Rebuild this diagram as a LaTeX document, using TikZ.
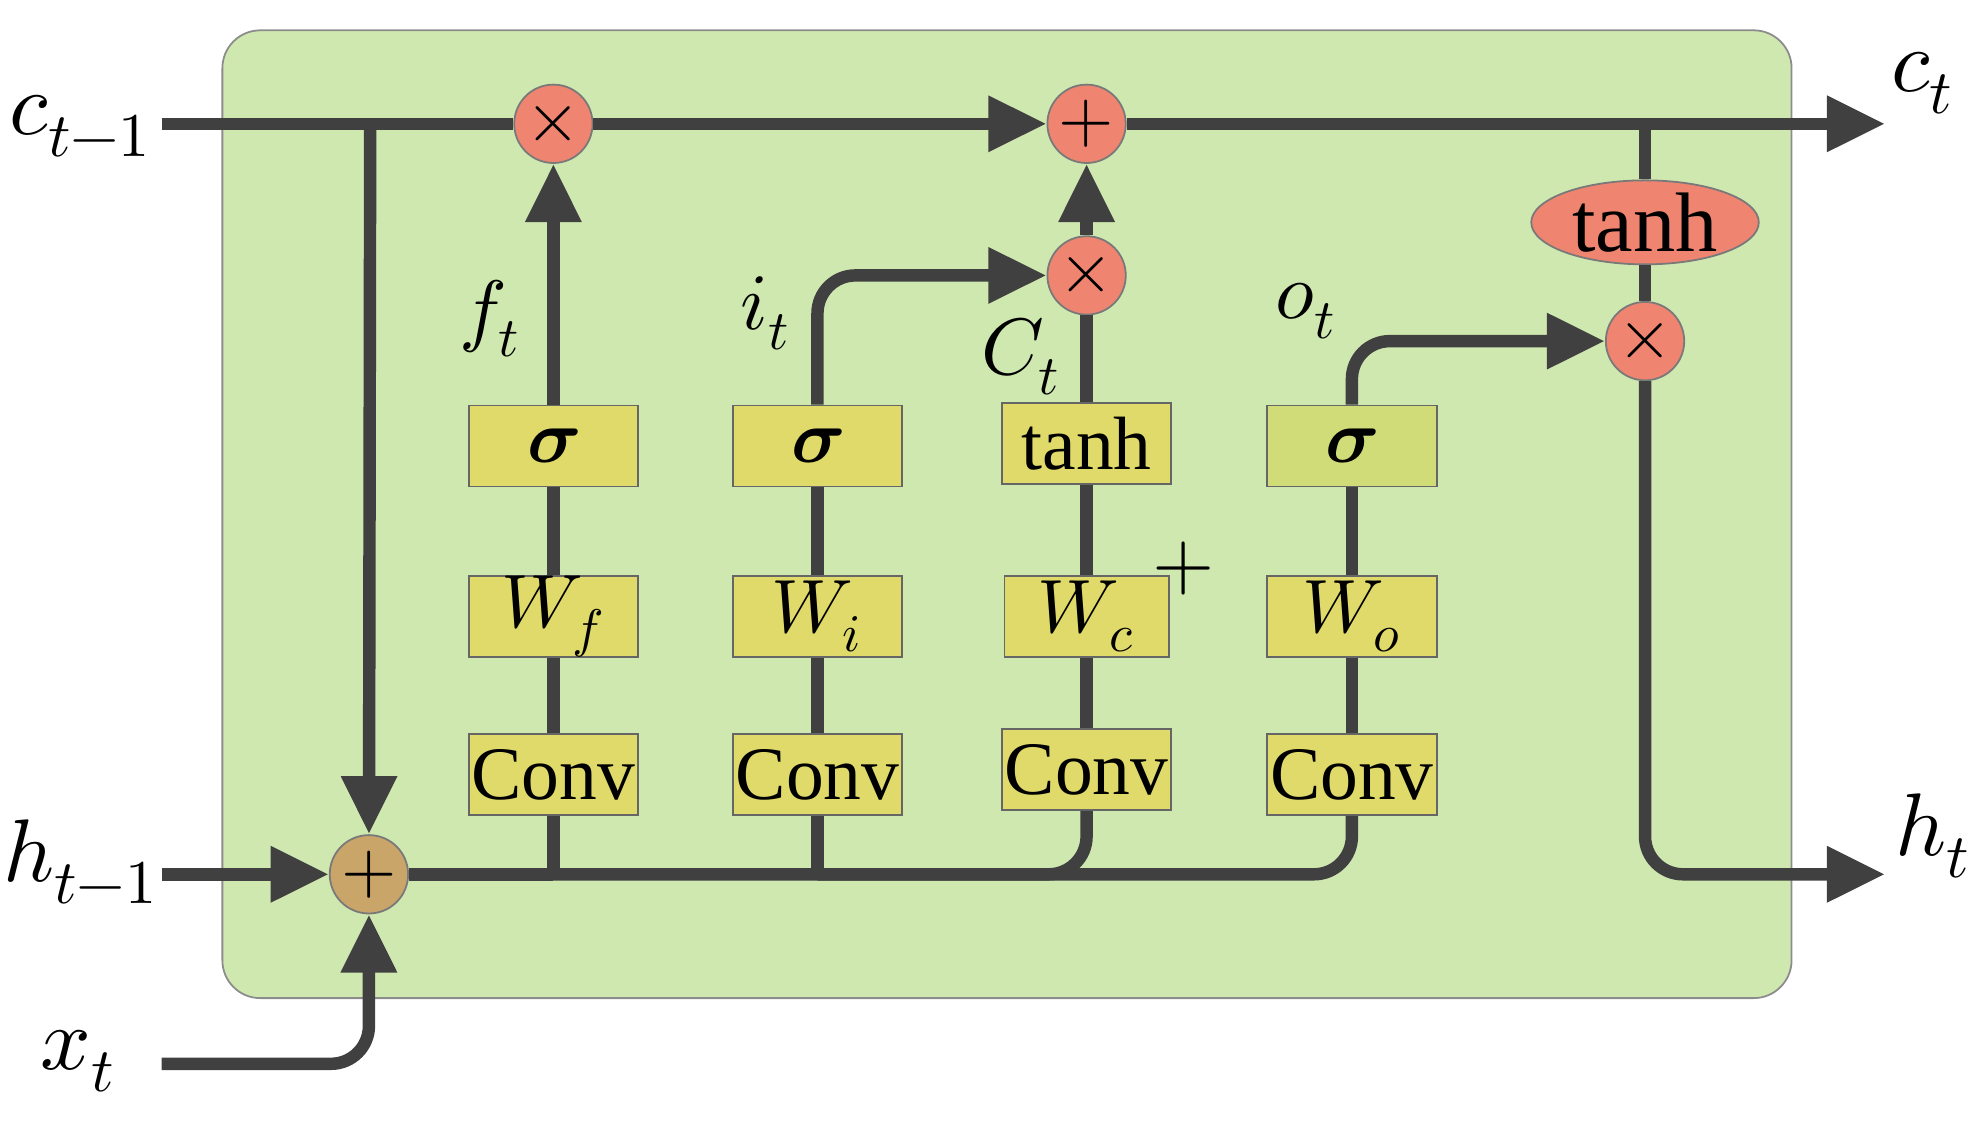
\documentclass[tikz,border=0pt]{standalone}
\usepackage{fontspec}
\setmainfont{Liberation Serif}
\usepackage{unicode-math}
\setmathfont{Latin Modern Math}
\usetikzlibrary{arrows.meta,positioning,shapes.geometric}
\definecolor{cellbg}{HTML}{CFE8B0}
\definecolor{gatey}{HTML}{E0DA6A}
\definecolor{gateg}{HTML}{D0DC78}
\definecolor{opred}{HTML}{EF8570}
\definecolor{opbrown}{HTML}{C9A56A}
\definecolor{wire}{HTML}{404040}
\tikzset{
  gate/.style={draw=wire!80,fill=gatey,minimum width=1.34cm,minimum height=0.64cm,inner sep=0pt,font=\fontsize{17}{17}\selectfont},
  op/.style={circle,draw=wire!70,fill=opred,minimum size=0.62cm,inner sep=0pt,font=\fontsize{16}{16}\selectfont},
  line/.style={draw=wire,line width=2.8pt},
  arr/.style={line,-{Triangle[length=0.46cm,width=0.42cm]}},
  lbl/.style={font=\fontsize{20}{20}\selectfont,inner sep=0pt}
}
\begin{document}
\begin{tikzpicture}[x=0.01cm,y=-0.01cm]
  \useasboundingbox (0,0) rectangle (1560,898);
  \fill[cellbg,draw=wire!60,rounded corners=0.3cm] (176,24) rectangle (1418,790);
  % operators
  \node[op] (mulf) at (438,98) {$\times$};
  \node[op] (addc) at (860,98) {$+$};
  \node[op] (muli) at (860,218) {$\times$};
  \node[op] (mulo) at (1302,270) {$\times$};
  \node[op,fill=opbrown] (addx) at (292,692) {$+$};
  \node[ellipse,draw=wire!70,fill=opred,minimum width=1.8cm,minimum height=0.64cm,inner sep=0pt,font=\fontsize{19}{19}\selectfont] (tanhc) at (1302,176) {tanh};
  % gates
  \node[gate] (sigf) at (438,353) {$\symbf{\sigma}$};
  \node[gate] (sigi) at (647,353) {$\symbf{\sigma}$};
  \node[gate] (tanhg) at (860,351) {tanh};
  \node[gate,fill=gateg] (sigo) at (1070,353) {$\symbf{\sigma}$};
  \node[gate] (wf) at (438,488) {$W_f$};
  \node[gate] (wi) at (647,488) {$W_i$};
  \node[gate,minimum width=1.3cm] (wc) at (860,488) {$W_c$};
  \node[gate] (wo) at (1070,488) {$W_o$};
  \node[gate] (convf) at (438,613) {Conv};
  \node[gate] (convi) at (647,613) {Conv};
  \node[gate] (convc) at (860,609) {Conv};
  \node[gate] (convo) at (1070,613) {Conv};
  % labels
  \node[lbl] (lcin) at (64,100) {$c_{t-1}$};
  \node[lbl] (lcout) at (1522,66) {$c_t$};
  \node[lbl] (lhin) at (64,682) {$h_{t-1}$};
  \node[lbl] (lhout) at (1530,662) {$h_t$};
  \node[lbl] (lx) at (62,840) {$x_t$};
  \node[lbl,font=\fontsize{18}{18}\selectfont] (lf) at (388,252) {$f_t$};
  \node[lbl,font=\fontsize{18}{18}\selectfont] (li) at (606,248) {$i_t$};
  \node[lbl,font=\fontsize{18}{18}\selectfont] (lC) at (808,282) {$C_t$};
  \node[lbl,font=\fontsize{18}{18}\selectfont] (lo) at (1034,246) {$o_t$};
  \node[font=\fontsize{18}{18}\selectfont] (stray) at (937,450) {$+$};
  \coordinate (cin) at (128,98);
  \coordinate (cout) at (1492,98);
  \coordinate (hin) at (128,692);
  \coordinate (hout) at (1492,692);
  \coordinate (xin) at (128,842);
  % cell state
  \draw[line] (cin) -- (mulf);
  \draw[arr] (mulf) -- (addc);
  \draw[arr] (addc) -- (cout);
  \draw[arr] (293,98) -- (addx);
  \draw[line] (1302,98) -- (tanhc);
  \draw[line] (tanhc) -- (mulo);
  \draw[arr,rounded corners=0.3cm] (mulo) |- (hout);
  % inputs
  \draw[arr] (hin) -- (addx);
  \draw[arr,rounded corners=0.3cm] (xin) -| (addx);
  \draw[line] (addx) -- (convf.south |- addx);
  \draw[line,rounded corners=0.3cm] (addx.east) -| (convo.south);
  \draw[line,rounded corners=0.3cm] (convi.south |- addx) -| (convc.south);
  \draw[line] (convf.south) -- (convf.south |- addx);
  \draw[line] (convi.south) -- (convi.south |- addx);
  % gate columns
  \foreach \a/\b/\c in {convf/wf/sigf,convi/wi/sigi,convc/wc/tanhg,convo/wo/sigo}{
    \draw[line] (\a) -- (\b);
    \draw[line] (\b) -- (\c);
  }
  \draw[arr] (sigf) -- (mulf);
  \draw[arr,rounded corners=0.3cm] (sigi.north) |- (muli);
  \draw[line] (tanhg) -- (muli);
  \draw[arr] (muli) -- (addc);
  \draw[arr,rounded corners=0.3cm] (sigo.north) |- (mulo);
\end{tikzpicture}
\end{document}
